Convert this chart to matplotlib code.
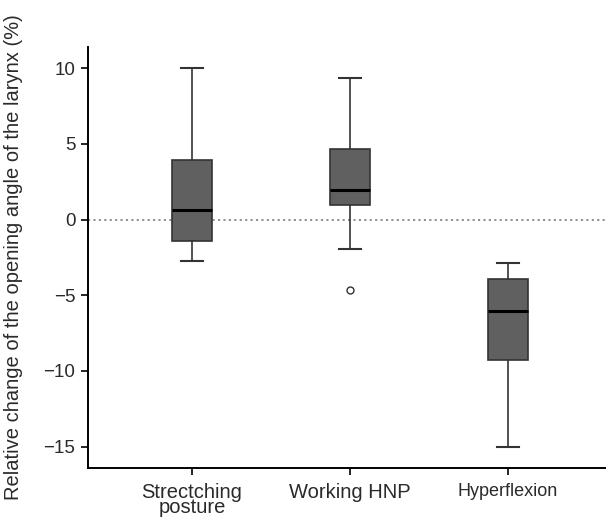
import matplotlib
matplotlib.use("Agg")
import matplotlib.pyplot as plt

plt.rcParams['font.family'] = ['Liberation Sans', 'DejaVu Sans']

# Box statistics
groups = ["Strectching\nposture", "Working HNP", "Hyperflexion"]
whisker_low = [-2.75, -1.95, -15.05]
q1 = [-1.4, 0.93, -9.3]
medians = [0.6, 1.95, -6.05]
q3 = [3.95, 4.63, -3.95]
whisker_high = [10.0, 9.35, -2.9]
outliers = [[], [-4.65], []]

stats = []
for i in range(len(groups)):
    stats.append({
        'whislo': whisker_low[i], 'q1': q1[i], 'med': medians[i],
        'q3': q3[i], 'whishi': whisker_high[i], 'fliers': outliers[i],
    })

text_col = '#2a2a2a'

fig = plt.figure(figsize=(6.06, 5.21), dpi=100)
ax = fig.add_axes([0.145, 0.102, 0.855, 0.808])

ax.axhline(0, color='#888888', linestyle=(0, (1.2, 1.8)), linewidth=1.3, zorder=0)

ax.bxp(stats, positions=[1, 2, 3], widths=0.25, patch_artist=True,
       boxprops=dict(facecolor='#606060', edgecolor='#333333', linewidth=1.2),
       medianprops=dict(color='black', linewidth=2.2),
       whiskerprops=dict(color='#333333', linewidth=1.2),
       capprops=dict(color='#333333', linewidth=1.5),
       flierprops=dict(marker='o', markerfacecolor='white', markeredgecolor='#333333',
                       markersize=5, markeredgewidth=1.0),
       capwidths=0.14)

ax.set_xlim(0.342, 3.62)
ax.set_ylim(-16.4, 11.4)
ax.set_yticks([10, 5, 0, -5, -10, -15])
ax.set_yticklabels(['10', '5', '0', '\u22125', '\u221210', '\u221215'])
ax.set_xticks([1, 2, 3])
ax.set_xticklabels(groups, fontsize=14.5, linespacing=0.75)
ax.get_xticklabels()[2].set_fontsize(13)
ax.tick_params(axis='y', labelsize=13.5, length=5, width=1.2, direction='out',
               pad=4, labelcolor=text_col)
ax.tick_params(axis='x', length=5, width=1.2, direction='out', pad=6, labelcolor=text_col)

for s in ['top', 'right']:
    ax.spines[s].set_visible(False)
for s in ['left', 'bottom']:
    ax.spines[s].set_linewidth(1.4)

ax.set_ylabel('Relative change of the opening angle of the larynx (%)', fontsize=14.5,
              color=text_col)
ax.yaxis.set_label_coords(-0.125, 0.5)

fig.savefig('out.png', dpi=100)
